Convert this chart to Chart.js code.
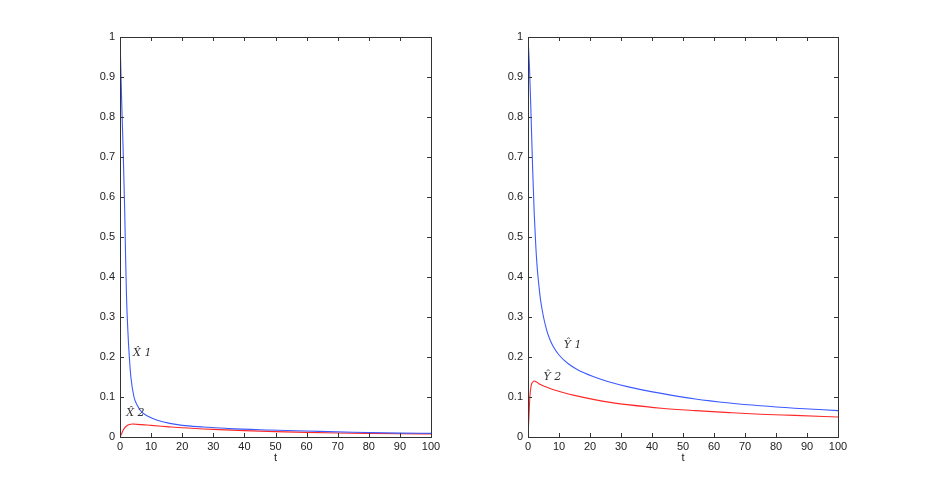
<!DOCTYPE html>
<html>
<head>
<meta charset="utf-8">
<script src="https://cdn.jsdelivr.net/npm/chart.js@4/dist/chart.umd.min.js"></script>
<style>
  body { margin: 0; background: #fff; }
  .wrap { position: absolute; top: 0; width: 463px; height: 491px; }
  #left { left: 0; }
  #right { left: 463px; }
</style>
</head>
<body>
<div class="wrap" id="left"><canvas id="chartX"></canvas></div>
<div class="wrap" id="right"><canvas id="chartY"></canvas></div>
<script>
// values, [t, value]
const x1 = [[0,1],[0.5,0.85],[1,0.72],[1.5,0.57],[1.8,0.45],[2.1,0.35],[2.5,0.27],[3,0.2],[3.5,0.15],[4.5,0.1],[5.5,0.08],[7,0.062],[9,0.052],[12,0.042],[16,0.034],[20,0.029],[27,0.025],[35,0.021],[48,0.0175],[60,0.015],[75,0.012],[90,0.0098],[100,0.009]];
const x2 = [[0,0],[0.5,0.008],[1,0.017],[1.5,0.023],[2,0.027],[3,0.031],[4,0.0325],[5,0.032],[7,0.031],[10,0.029],[15,0.026],[20,0.023],[30,0.019],[40,0.016],[50,0.0135],[60,0.0115],[70,0.01],[80,0.009],[90,0.0082],[100,0.0077]];
const y1 = [[0,1],[0.5,0.92],[1,0.8],[1.5,0.67],[2,0.56],[2.5,0.48],[3,0.42],[3.5,0.38],[4,0.345],[5,0.3],[6,0.268],[7,0.245],[8,0.228],[10,0.205],[13,0.183],[16,0.168],[21,0.151],[26,0.138],[32,0.126],[43,0.109],[54,0.095],[65,0.085],[75,0.078],[86,0.072],[100,0.066]];
const y2 = [[0,0],[0.3,0.05],[0.6,0.1],[1,0.128],[1.5,0.137],[2,0.14],[3,0.136],[4,0.131],[5.5,0.126],[8,0.119],[11,0.112],[15,0.104],[21,0.094],[27,0.086],[32,0.081],[43,0.072],[54,0.066],[65,0.061],[75,0.057],[86,0.054],[100,0.05]];

const xTicks = [0, 10, 20, 30, 40, 50, 60, 70, 80, 90, 100];
const yTicks = [0, 0.1, 0.2, 0.3, 0.4, 0.5, 0.6, 0.7, 0.8, 0.9, 1];

// curve labels: [text, t, value]
const labelsX = [["X\u0302 1", 4.2, 0.21], ["X\u0302 2", 2, 0.06]];
const labelsY = [["Y\u0302 1", 11.5, 0.23], ["Y\u0302 2", 5, 0.15]];

const tickFont = { family: "'Liberation Sans Narrow', 'Liberation Sans', Arial", size: 11 };

// MATLAB-like box with inward ticks, axis name and curve labels
const boxPlugin = {
  id: "box",
  afterDraw(chart) {
    const ctx = chart.ctx;
    const a = chart.chartArea;
    const xs = chart.scales.x, ys = chart.scales.y;
    ctx.save();
    ctx.strokeStyle = "#333";
    ctx.lineWidth = 1;
    ctx.strokeRect(a.left + 0.5, a.top + 0.5, a.right - a.left, a.bottom - a.top);
    ctx.beginPath();
    xTicks.forEach((v) => {
      const px = Math.round(xs.getPixelForValue(v)) + 0.5;
      ctx.moveTo(px, a.bottom); ctx.lineTo(px, a.bottom - 4);
      ctx.moveTo(px, a.top); ctx.lineTo(px, a.top + 4);
    });
    yTicks.forEach((v) => {
      const py = Math.round(ys.getPixelForValue(v)) + 0.5;
      ctx.moveTo(a.left, py); ctx.lineTo(a.left + 4, py);
      ctx.moveTo(a.right, py); ctx.lineTo(a.right - 4, py);
    });
    ctx.stroke();

    ctx.fillStyle = "#222";
    ctx.font = "11px 'Liberation Sans Narrow', 'Liberation Sans', Arial";
    ctx.textAlign = "center";
    ctx.textBaseline = "middle";
    ctx.fillText("t", (a.left + a.right) / 2, a.bottom + 21);

    ctx.fillStyle = "#333";
    ctx.font = "italic 11px 'DejaVu Serif'";
    ctx.textAlign = "left";
    (chart.options.plugins.box.labels || []).forEach(([txt, t, v]) => {
      ctx.fillText(txt, xs.getPixelForValue(t), ys.getPixelForValue(v));
    });
    ctx.restore();
  },
};

function makeChart(id, blue, red, labels, padRight) {
  new Chart(document.getElementById(id), {
    type: "line",
    data: {
      datasets: [
        { data: blue.map(([t, v]) => ({ x: t, y: v })), borderColor: "rgb(60,90,255)", borderWidth: 1.1 },
        { data: red.map(([t, v]) => ({ x: t, y: v })), borderColor: "rgb(255,40,40)", borderWidth: 1.1 },
      ],
    },
    options: {
      responsive: true,
      maintainAspectRatio: false,
      animation: false,
      elements: { point: { radius: 0 }, line: { cubicInterpolationMode: "monotone" } },
      layout: { padding: { top: 37, right: padRight, left: 0, bottom: 0 } },
      plugins: { legend: { display: false }, tooltip: { enabled: false }, box: { labels: labels } },
      scales: {
        x: {
          type: "linear", min: 0, max: 100,
          afterFit: (s) => { s.height = 54; },
          afterBuildTicks: (s) => { s.ticks = xTicks.map((v) => ({ value: v })); },
          grid: { display: false, drawTicks: false, tickLength: 0 }, border: { display: false },
          ticks: { font: tickFont, color: "#222", padding: 3, maxRotation: 0 },
        },
        y: {
          min: 0, max: 1,
          afterFit: (s) => { s.width = id === "chartX" ? 120 : 65; },
          afterBuildTicks: (s) => { s.ticks = yTicks.map((v) => ({ value: v })); },
          grid: { display: false, drawTicks: false, tickLength: 0 }, border: { display: false },
          ticks: { font: tickFont, color: "#222", padding: 5, callback: (v) => String(v) },
        },
      },
    },
    plugins: [boxPlugin],
  });
}

makeChart("chartX", x1, x2, labelsX, 32);
makeChart("chartY", y1, y2, labelsY, 88);
</script>
</body>
</html>
